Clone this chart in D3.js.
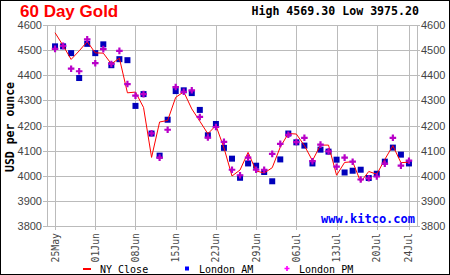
<!DOCTYPE html>
<html>
  <head>
    <title>60 Day Gold</title>
    <script src="https://cdn.jsdelivr.net/npm/d3@7"></script>
    <style>
      body { margin: 0; background: #fff; }
    </style>
  </head>
  <body>
    <svg width="450" height="275" id="mainsvg"></svg>
    <script>
    // trading-day index -> value
    const nyClose = [4569.3, 4518, 4463, 4497, 4534, 4489, 4488, 4445, 4468, 4330,
      4333, 4272, 4073, 4214, 4220, 4312, 4334, 4266, 4217, 4167,
      4200, 4111, 3999, 4023, 4093, 4019, 4011, 4032, 4114, 4168,
      4166, 4120, 4060, 4122, 4122, 4002, 4053, 4056, 3975.2, 4017,
      4006, 4065, 4120, 4052, 4054];
    const londonAM = [4515, 4515, 4488, 4389, 4525, 4488, 4523, 4440, 4464, 4460,
      4278, 4325, 4168, 4080, 4223, 4337, 4340, 4329, 4262, 4161,
      4206, 4111, 4068, 3992, 4049, 4040, 4015, 3978, 4065, 4168,
      4133, 4120, 4049, 4104, 4096, 4064, 4013, 4020, 4024, 3991,
      4008, 4056, 4112, 4084, 4049];
    const londonPM = [4505, 4517, 4426, 4416, 4543, 4448, 4504, 4445, 4497, 4365,
      4319, 4325, 4169, 4072, 4183, 4353, 4334, 4340, 4234, 4152,
      4194, 4135, 4024, 4002, 4072, 4024, 4024, 4087, 4127, 4163,
      4134, 4151, 4058, 4124, 4097, 4036, 4072, 4056, 3985, 3990,
      3997, 4048, 4151, 4040, 4060];
    const tickIdx = [0, 5, 10, 15, 20, 25, 30, 35, 40, 44];
    const tickLabels = ['25May', '01Jun', '08Jun', '15Jun', '22Jun', '29Jun', '06Jul', '13Jul', '20Jul', '24Jul'];
    const yTicks = [3800, 3900, 4000, 4100, 4200, 4300, 4400, 4500, 4600];

    let svg = d3.select('#mainsvg');
    const W = 450, H = 275;
    const pL = 47, pR = 417, pT = 25, pB = 226;
    const grid = '#bbbbbb';
    const mono = "'DejaVu Sans Mono', monospace";

    let x = d3.scaleLinear().domain([-1, 45]).range([pL, pR]);
    let y = d3.scaleLinear().domain([3800, 4600]).range([pB, pT]);

    // outer frame
    svg.append('rect').attr('x', 0.5).attr('y', 0.5).attr('width', W - 1).attr('height', H - 1)
      .attr('fill', '#fff').attr('stroke', '#000');

    // grid
    svg.append('g').selectAll('line').data(yTicks).join('line')
      .attr('x1', pL - 4).attr('x2', pR + 3)
      .attr('y1', d => Math.round(y(d)) + 0.5).attr('y2', d => Math.round(y(d)) + 0.5)
      .attr('stroke', grid);
    svg.append('g').selectAll('line').data(tickIdx).join('line')
      .attr('x1', d => Math.round(x(d)) + 0.5).attr('x2', d => Math.round(x(d)) + 0.5)
      .attr('y1', pT).attr('y2', pB + 4)
      .attr('stroke', grid);
    svg.append('rect').attr('x', pL + 0.5).attr('y', pT + 0.5)
      .attr('width', pR - pL).attr('height', pB - pT)
      .attr('fill', 'none').attr('stroke', grid);

    // y labels both sides
    svg.append('g').selectAll('text').data(yTicks).join('text')
      .attr('x', 42).attr('y', d => y(d) + 4)
      .attr('text-anchor', 'end').attr('font-family', 'Liberation Sans, Arial, sans-serif')
      .attr('font-size', 11).attr('fill', '#444').text(d => d);
    svg.append('g').selectAll('text').data(yTicks).join('text')
      .attr('x', 421).attr('y', d => y(d) + 4)
      .attr('text-anchor', 'start').attr('font-family', 'Liberation Sans, Arial, sans-serif')
      .attr('font-size', 11).attr('fill', '#444').text(d => d);

    // x labels, rotated
    svg.append('g').selectAll('text').data(tickIdx).join('text')
      .attr('transform', d => `translate(${x(d) + 3.5},233) rotate(-90)`)
      .attr('text-anchor', 'end').attr('font-family', mono)
      .attr('font-size', 9.8).attr('fill', '#444').text((d, i) => tickLabels[i]);

    // y title
    svg.append('text').attr('transform', 'translate(14,127) rotate(-90)')
      .attr('text-anchor', 'middle').attr('font-family', mono).attr('font-weight', 'bold')
      .attr('font-size', 11.5).attr('fill', '#000').text('USD per ounce');

    // titles
    svg.append('text').attr('x', 20).attr('y', 17)
      .attr('font-family', 'Liberation Sans, Arial, sans-serif').attr('font-weight', 'bold')
      .attr('font-size', 17).attr('fill', '#ff0000').text('60 Day Gold');
    svg.append('text').attr('x', 419).attr('y', 15).attr('text-anchor', 'end')
      .attr('font-family', mono).attr('font-weight', 'bold')
      .attr('font-size', 11.6).attr('fill', '#000').text('High 4569.30 Low 3975.20');

    // watermark
    svg.append('text').attr('x', 415).attr('y', 223).attr('text-anchor', 'end')
      .attr('font-family', mono).attr('font-weight', 'bold')
      .attr('font-size', 12).attr('fill', '#0000ff').text('www.kitco.com');

    // series
    svg.append('g').selectAll('rect').data(londonAM).join('rect')
      .attr('x', (d, i) => x(i) - 3).attr('y', d => y(d) - 3)
      .attr('width', 6).attr('height', 6).attr('fill', '#0000bb');

    let line = d3.line().x((d, i) => x(i)).y(d => y(d));
    svg.append('path').datum(nyClose).attr('d', line)
      .attr('fill', 'none').attr('stroke', '#ff0000').attr('stroke-width', 1);

    let cross = d3.symbol().type(d3.symbolCross).size(24);
    svg.append('g').selectAll('path').data(londonPM).join('path')
      .attr('transform', (d, i) => `translate(${x(i)},${y(d)})`)
      .attr('d', cross).attr('fill', '#b800c8');

    // legend
    let lg = svg.append('g').attr('font-family', mono).attr('font-size', 10).attr('fill', '#000');
    lg.append('rect').attr('x', 83).attr('y', 268).attr('width', 8).attr('height', 2).attr('fill', '#ff0000');
    lg.append('text').attr('x', 100).attr('y', 273).text('NY Close');
    lg.append('rect').attr('x', 185).attr('y', 266.5).attr('width', 4).attr('height', 4).attr('fill', '#0000ff');
    lg.append('text').attr('x', 199).attr('y', 273).text('London AM');
    lg.append('path').attr('transform', 'translate(287,268.5)')
      .attr('d', d3.symbol().type(d3.symbolCross).size(14)).attr('fill', '#ff00ff');
    lg.append('text').attr('x', 299).attr('y', 273).text('London PM');
    </script>
  </body>
</html>
